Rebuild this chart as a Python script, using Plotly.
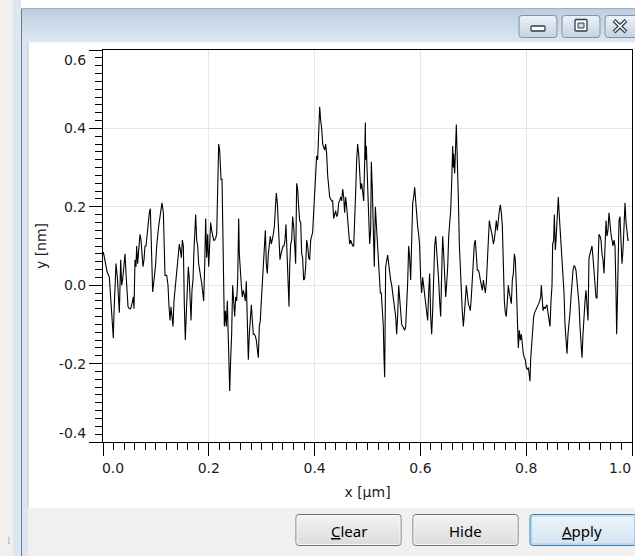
import plotly.graph_objects as go

# ---------------- data ----------------
x_seg1 = [0.0006,0.0038,0.0076,0.0120,0.0145,0.0164,0.0183,0.0195,0.0208,0.0227,
          0.0246,0.0271,0.0290,0.0309,0.0334,0.0353,0.0372,0.0397,0.0416,0.0435,
          0.0447,0.0473,0.0498,0.0523,0.0548,0.0573,0.0586,0.0605,0.0624,0.0636,
          0.0655,0.0674,0.0699,0.0718,0.0737,0.0756,0.0775,0.0794,0.0813,0.0838,
          0.0857,0.0876,0.0895,0.0907,0.0920,0.0939,0.0958,0.0977,0.0996,0.1015,
          0.1033,0.1052,0.1078,0.1096,0.1115,0.1141,0.1153,0.1172,0.1204,0.1229,
          0.1248,0.1267,0.1285,0.1304,0.1323,0.1342,0.1367,0.1386,0.1405,0.1424,
          0.1443,0.1462,0.1481,0.1500,0.1519,0.1537,0.1556,0.1575,0.1594,0.1613,
          0.1632]
y_seg1 = [0.085,0.06,0.035,0.02,-0.035,-0.09,-0.115,-0.135,-0.07,-0.02,
          0.055,0.02,-0.04,-0.07,0.065,0.0,0.015,0.055,0.08,0.03,
          -0.013,-0.055,-0.06,-0.06,-0.047,-0.03,-0.06,0.065,0.047,0.1,
          0.055,0.1,0.13,0.115,0.08,0.047,0.065,0.1,0.1,0.13,
          0.17,0.185,0.195,0.13,0.035,-0.017,0.005,0.03,0.055,0.1,
          0.13,0.15,0.175,0.2,0.21,0.185,0.115,0.025,0.025,0.0,
          -0.055,-0.09,-0.055,-0.09,-0.105,-0.04,0.0,0.02,0.055,0.07,
          0.105,0.09,0.07,0.115,0.1,-0.047,-0.14,-0.07,-0.02,0.047,
          0.013]

x_seg2 = [0.1645,0.1664,0.1682,0.1701,0.1720,0.1739,0.1752,0.1771,0.1790,0.1808,
          0.1827,0.1846,0.1865,0.1884,0.1903,0.1922,0.1941,0.1960,0.1979,0.1998,
          0.2016,0.2035,0.2054,0.2073,0.2092,0.2111,0.2130,0.2149,0.2161,0.2174,
          0.2187,0.2205,0.2218,0.2231,0.2250,0.2262,0.2275,0.2294,0.2313,0.2331,
          0.2350,0.2369,0.2388,0.2395,0.2413,0.2432,0.2451,0.2470,0.2489,0.2508,
          0.2527,0.2546,0.2565,0.2577,0.2596,0.2615,0.2634,0.2653,0.2672,0.2691,
          0.2709,0.2728,0.2747,0.2766,0.2785,0.2804,0.2823,0.2842,0.2861,0.2880,
          0.2898,0.2917,0.2936,0.2955,0.2974,0.2993,0.3012,0.3031,0.3050,0.3069,
          0.3087,0.3106,0.3125,0.3144,0.3163,0.3182,0.3201,0.3220,0.3239,0.3258,
          0.3276,0.3295]
y_seg2 = [-0.055,-0.09,-0.013,0.013,0.09,0.13,0.18,0.115,0.1,0.055,
          0.038,0.03,0.005,-0.017,-0.04,0.047,0.17,0.07,0.13,0.047,
          0.125,0.16,0.14,0.125,0.115,0.115,0.12,0.13,0.215,0.27,
          0.36,0.345,0.32,0.27,0.27,0.15,-0.04,-0.105,-0.065,-0.105,
          -0.04,-0.16,-0.225,-0.27,-0.19,-0.125,0.0,-0.055,-0.08,-0.03,
          -0.04,0.013,0.17,0.08,0.02,0.0,-0.03,-0.013,-0.025,-0.04,
          0.01,-0.14,-0.19,-0.125,-0.08,-0.05,-0.09,-0.125,-0.125,-0.13,
          -0.14,-0.16,-0.185,-0.105,-0.09,-0.04,0.005,0.07,0.1,0.14,
          0.055,0.03,0.08,0.1,0.125,0.105,0.115,0.13,0.15,0.19,
          0.235,0.21]

x_seg3 = [0.3308,0.3327,0.3346,0.3365,0.3384,0.3403,0.3422,0.3440,0.3459,0.3478,
          0.3497,0.3516,0.3529,0.3548,0.3567,0.3585,0.3604,0.3623,0.3642,0.3661,
          0.3680,0.3699,0.3718,0.3737,0.3756,0.3774,0.3793,0.3812,0.3831,0.3850,
          0.3869,0.3888,0.3907,0.3926,0.3945,0.3963,0.3982,0.4001,0.4020,0.4039,
          0.4058,0.4077,0.4096,0.4115,0.4134,0.4153,0.4171,0.4190,0.4209,0.4228,
          0.4247,0.4266,0.4285,0.4304,0.4323,0.4342,0.4360,0.4379,0.4398,0.4417,
          0.4436,0.4455,0.4474,0.4493,0.4512,0.4531,0.4550,0.4568,0.4587,0.4606,
          0.4625,0.4644,0.4663,0.4682,0.4701,0.4720,0.4739,0.4757,0.4776,0.4795,
          0.4814,0.4833,0.4852,0.4871,0.4890,0.4909,0.4928,0.4946,0.4959]
y_seg3 = [0.165,0.105,0.065,0.08,0.09,0.1,0.1,0.115,0.155,0.08,
          0.005,-0.055,0.047,0.105,0.115,0.175,0.15,0.105,0.055,0.26,
          0.245,0.2,0.165,0.16,0.08,0.07,0.013,0.017,0.047,0.115,
          0.1,0.07,0.065,0.115,0.125,0.135,0.185,0.235,0.28,0.33,
          0.32,0.4,0.455,0.42,0.4,0.36,0.35,0.345,0.36,0.335,
          0.28,0.245,0.225,0.22,0.215,0.215,0.17,0.18,0.19,0.175,
          0.18,0.21,0.215,0.225,0.215,0.245,0.225,0.185,0.225,0.2,
          0.165,0.13,0.105,0.115,0.105,0.1,0.1,0.15,0.235,0.32,
          0.36,0.335,0.27,0.245,0.26,0.225,0.215,0.31,0.415]

x_seg4 = [0.4965,0.4978,0.4991,0.5009,0.5022,0.5041,0.5060,0.5072,0.5091,0.5110,
          0.5129,0.5148,0.5167,0.5186,0.5205,0.5224,0.5243,0.5261,0.5280,0.5299,
          0.5312,0.5325,0.5343,0.5362,0.5381,0.5400,0.5419,0.5438,0.5457,0.5476,
          0.5495,0.5514,0.5533,0.5551,0.5570,0.5589,0.5608,0.5627,0.5646,0.5665,
          0.5684,0.5703,0.5722,0.5740,0.5759,0.5778,0.5797,0.5816,0.5835,0.5854,
          0.5873,0.5892,0.5911,0.5930,0.5948,0.5967,0.5986,0.6005,0.6024,0.6043,
          0.6062,0.6081,0.6100,0.6119,0.6137,0.6156,0.6175,0.6194,0.6213,0.6232,
          0.6251,0.6270,0.6289,0.6308,0.6327,0.6345,0.6364,0.6383,0.6402,0.6421,
          0.6440,0.6459,0.6478,0.6497,0.6516,0.6535,0.6554,0.6572,0.6591,0.6610,
          0.6622]
y_seg4 = [0.32,0.355,0.3,0.215,0.15,0.105,0.14,0.315,0.245,0.125,
          0.047,0.2,0.16,0.13,0.08,0.03,-0.02,-0.02,-0.07,-0.105,
          -0.185,-0.235,0.047,0.065,0.077,0.055,0.03,0.013,0.0,-0.02,
          -0.04,-0.065,-0.08,-0.125,-0.08,0.0,-0.04,-0.09,-0.1,-0.105,
          -0.11,-0.115,-0.105,-0.055,0.005,0.1,0.07,0.013,0.105,0.21,
          0.225,0.25,0.215,0.175,0.15,0.13,0.1,0.02,-0.02,0.02,
          0.0,-0.02,-0.047,-0.07,-0.09,-0.02,0.03,-0.08,-0.125,-0.065,
          0.03,0.1,0.125,0.09,0.065,0.013,-0.04,-0.08,0.03,0.125,
          0.08,0.03,-0.03,0.005,0.047,0.125,0.15,0.19,0.26,0.355,
          0.3]

x_seg5 = [0.6629,0.6648,0.6667,0.6679,0.6692,0.6705,0.6717,0.6736,0.6755,0.6774,
          0.6793,0.6812,0.6830,0.6849,0.6868,0.6887,0.6906,0.6925,0.6944,0.6963,
          0.6982,0.7001,0.7019,0.7038,0.7057,0.7076,0.7095,0.7114,0.7133,0.7152,
          0.7171,0.7190,0.7208,0.7227,0.7246,0.7265,0.7284,0.7303,0.7322,0.7341,
          0.7360,0.7379,0.7397,0.7416,0.7435,0.7454,0.7473,0.7492,0.7511,0.7530,
          0.7549,0.7568,0.7587,0.7605,0.7624,0.7643,0.7662,0.7681,0.7700,0.7719,
          0.7738,0.7757,0.7776,0.7794,0.7813,0.7832,0.7851,0.7870,0.7889,0.7908,
          0.7927,0.7946,0.7965,0.7983,0.8002,0.8021,0.8040,0.8059,0.8072,0.8084,
          0.8103,0.8122,0.8141,0.8160,0.8179,0.8198,0.8217,0.8236,0.8255,0.8274,
          0.8286]
y_seg5 = [0.335,0.285,0.355,0.41,0.345,0.3,0.225,0.105,0.03,-0.04,
          -0.07,-0.105,-0.08,-0.04,0.0,-0.03,-0.047,-0.055,-0.065,-0.03,
          0.03,0.065,0.105,0.115,0.07,0.038,0.038,0.03,0.013,0.0,
          -0.013,0.013,0.0,-0.02,0.005,0.055,0.13,0.165,0.15,0.14,
          0.125,0.105,0.115,0.14,0.165,0.14,0.175,0.19,0.205,0.185,
          0.15,0.03,-0.04,-0.07,-0.08,-0.04,0.0,-0.02,-0.03,-0.047,
          0.013,0.03,0.08,0.065,0.0,-0.08,-0.16,-0.115,-0.14,-0.125,
          -0.16,-0.175,-0.185,-0.19,-0.21,-0.215,-0.21,-0.225,-0.245,-0.19,
          -0.15,-0.105,-0.08,-0.07,-0.065,-0.06,-0.055,-0.047,-0.04,-0.03,
          0.0]

x_seg6 = [0.8299,0.8318,0.8336,0.8355,0.8374,0.8393,0.8412,0.8431,0.8450,0.8469,
          0.8488,0.8500,0.8519,0.8532,0.8551,0.8570,0.8588,0.8607,0.8620,0.8639,
          0.8658,0.8677,0.8696,0.8715,0.8733,0.8752,0.8771,0.8790,0.8809,0.8828,
          0.8847,0.8866,0.8885,0.8904,0.8922,0.8941,0.8960,0.8979,0.8998,0.9017,
          0.9036,0.9055,0.9074,0.9093,0.9112,0.9130,0.9149,0.9168,0.9187,0.9206,
          0.9225,0.9244,0.9263,0.9282,0.9301,0.9319,0.9338,0.9357,0.9376,0.9395,
          0.9414,0.9433,0.9452,0.9471,0.9490,0.9509,0.9527,0.9546,0.9565,0.9584,
          0.9603,0.9622,0.9641,0.9660,0.9679,0.9698,0.9710,0.9723,0.9735,0.9754,
          0.9773,0.9792,0.9811,0.9830,0.9849,0.9868,0.9887,0.9905,0.9924,0.9943]
y_seg6 = [-0.047,-0.065,-0.055,-0.06,-0.055,-0.05,-0.07,-0.09,-0.105,-0.04,
          0.0,0.105,0.115,0.18,0.09,0.13,0.19,0.225,0.19,0.15,
          0.13,0.09,0.03,-0.02,-0.1,-0.15,-0.175,-0.125,-0.1,-0.07,
          -0.03,0.013,0.038,0.05,0.047,0.038,0.013,-0.013,-0.047,-0.105,
          -0.14,-0.185,-0.125,-0.07,-0.04,-0.013,-0.065,-0.09,0.07,0.08,
          0.09,0.1,0.07,0.03,-0.013,-0.03,-0.034,0.047,0.13,0.125,
          0.115,0.08,0.065,0.03,0.125,0.165,0.125,0.14,0.185,0.15,
          0.13,0.115,0.1,0.115,0.1,-0.02,-0.125,-0.047,0.09,0.165,
          0.175,0.115,0.055,0.09,0.165,0.21,0.16,0.125,0.115,0.115]

x_um = x_seg1 + x_seg2 + x_seg3 + x_seg4 + x_seg5 + x_seg6
y_nm = y_seg1 + y_seg2 + y_seg3 + y_seg4 + y_seg5 + y_seg6

x_tick_vals = [0.0, 0.2, 0.4, 0.6, 0.8, 1.0]
x_tick_text = ["0.0", "0.2", "0.4", "0.6", "0.8", "1.0"]
y_tick_vals = [-0.4, -0.2, 0.0, 0.2, 0.4, 0.6]
y_tick_text = ["-0.4", "-0.2", "0.0", "0.2", "0.4", "0.6"]
x_title = "x [µm]"
y_title = "y [nm]"
button_labels = ["<u>C</u>lear", "Hide", "<u>A</u>pply"]

# ---------------- geometry / styling ----------------
W, H = 635, 556
L, R, T, B = 103, 632, 50, 442
FONT = "DejaVu Sans"
TXT = "#1c1c1c"


def fx(p):
    return (p - L) / (R - L)


def fy(p):
    return (B - p) / (B - T)


shapes = []
annotations = []


def rect(x0, y0, x1, y1, fill, line_color=None, lw=0, layer="above"):
    shapes.append(dict(type="rect", xref="paper", yref="paper",
                       x0=fx(x0), x1=fx(x1), y0=fy(y0), y1=fy(y1),
                       fillcolor=fill, layer=layer,
                       line=dict(width=lw, color=line_color or fill)))


def seg(x0, y0, x1, y1, color, lw=1):
    shapes.append(dict(type="line", xref="paper", yref="paper",
                       x0=fx(x0), x1=fx(x1), y0=fy(y0), y1=fy(y1),
                       line=dict(color=color, width=lw), layer="above"))


def rrect(x0, y0, x1, y1, r, line_color, lw=1, fill="rgba(0,0,0,0)"):
    def P(a, b):
        return f"{fx(a):.5f},{fy(b):.5f}"
    path = (f"M{P(x0 + r, y0)} L{P(x1 - r, y0)} Q{P(x1, y0)} {P(x1, y0 + r)} "
            f"L{P(x1, y1 - r)} Q{P(x1, y1)} {P(x1 - r, y1)} L{P(x0 + r, y1)} "
            f"Q{P(x0, y1)} {P(x0, y1 - r)} L{P(x0, y0 + r)} Q{P(x0, y0)} {P(x0 + r, y0)} Z")
    shapes.append(dict(type="path", xref="paper", yref="paper", path=path,
                       fillcolor=fill, line=dict(color=line_color, width=lw),
                       layer="above"))


def mix(c0, c1, t):
    return "rgb(%d,%d,%d)" % tuple(round(a + (b - a) * t) for a, b in zip(c0, c1))


def gradient(x0, y0, x1, y1, c0, c1, n=10):
    h = (y1 - y0) / n
    for i in range(n):
        rect(x0, y0 + i * h, x1, y0 + (i + 1) * h + 0.3, mix(c0, c1, i / max(n - 1, 1)))


# desktop / window frame
rect(0, 0, 13, H, "#f0f0f0")
rect(13, 0, 21, H, "#dde7f2")
gradient(22, 8, W, 42, (190, 205, 222), (219, 231, 244), n=17)
rect(22, 42, 28, H, "#dae5f1")
seg(21.5, 8, 21.5, H, "#6f7c8a", 1)
seg(21, 8.5, W, 8.5, "#9fb0c2", 1)
seg(28, 42, 28, 508, "#b9c6d4", 1)
rect(28, 508, W, H, "#f0f0f0")
annotations.append(dict(x=fx(5), y=fy(549), xref="paper", yref="paper", text="⁞",
                        showarrow=False, font=dict(size=11, color="#a0a0a0", family=FONT)))

# title-bar buttons
for bx0, bx1 in [(519, 557), (562, 600), (605, 650)]:
    gradient(bx0 + 1, 16, bx1 - 1, 37, (233, 239, 246), (201, 214, 229), n=7)
    rrect(bx0, 15.5, bx1, 37.5, 3, "#8194a9", 1)
rrect(531, 26, 545, 31, 1, "#2f3d4c", 1.3, fill="#ffffff")
rrect(575, 19.5, 587, 31, 1, "#2f3d4c", 1.3, fill="#ffffff")
rect(578, 23, 584, 28, "#cfd8e2", "#2f3d4c", 1)
seg(614, 20.5, 626, 32, "#2f3d4c", 4)
seg(626, 20.5, 614, 32, "#2f3d4c", 4)
seg(614.5, 21, 625.5, 31.5, "#ffffff", 1.5)
seg(625.5, 21, 614.5, 31.5, "#ffffff", 1.5)

# dialog buttons
btns = [(296, 401), (413, 518), (530, 636)]
for i, (bx0, bx1) in enumerate(btns):
    if i == 2:
        gradient(bx0 + 1, 515, bx1 - 1, 545, (236, 244, 251), (214, 228, 240), n=8)
        rrect(bx0, 514.5, bx1, 545.5, 3, "#3c7fb1", 1)
        rrect(bx0 + 1.5, 516, bx1 - 1.5, 544, 2, "#9dd0f5", 1)
    else:
        gradient(bx0 + 1, 515, bx1 - 1, 545, (242, 242, 242), (221, 221, 221), n=8)
        rrect(bx0, 514.5, bx1, 545.5, 3, "#707070", 1)
        rrect(bx0 + 1, 515.5, bx1 - 1, 544.5, 2, "#fcfcfc", 0.8)
    annotations.append(dict(x=fx((bx0 + min(bx1, 635)) / 2 + (0 if i < 2 else -1)), y=fy(531),
                            xref="paper", yref="paper", text=button_labels[i],
                            showarrow=False, xanchor="center", yanchor="middle",
                            font=dict(size=15, color="#000000", family="Noto Sans")))

# ---------------- figure ----------------
fig = go.Figure()
fig.add_trace(go.Scatter(x=x_um, y=y_nm, mode="lines",
                         line=dict(color="#000000", width=1.1), hoverinfo="skip",
                         showlegend=False))
# transparent copies that only tie the end-label axes to the same data
for xa, ya in [("x2", "y2"), ("x3", "y3")]:
    fig.add_trace(go.Scatter(x=x_um, y=y_nm, mode="lines", xaxis=xa, yaxis=ya,
                             line=dict(color="rgba(0,0,0,0)", width=1), opacity=0,
                             hoverinfo="skip", showlegend=False))

tickfont = dict(family=FONT, size=14, color=TXT)
minor_common = dict(ticks="outside", ticklen=7, tickcolor="#000000", tickwidth=1, showgrid=False)

mid_x_text = [t if 0 < i < len(x_tick_text) - 1 else "" for i, t in enumerate(x_tick_text)]
mid_y_text = [t if 0 < i < len(y_tick_text) - 1 else "" for i, t in enumerate(y_tick_text)]


def end_axis(overlay, anchor, side, rng, val, text, shift):
    return dict(overlaying=overlay, anchor=anchor, side=side, range=rng,
                tickmode="array", tickvals=[val], ticktext=[text],
                ticks="outside", ticklen=13, tickcolor="rgba(0,0,0,0)",
                showgrid=False, zeroline=False, showline=False, ticklabelshift=shift,
                tickfont=tickfont, fixedrange=True)


fig.update_layout(
    width=W, height=H,
    margin=dict(l=L, r=W - R, t=T, b=H - B, pad=0),
    paper_bgcolor="#ffffff", plot_bgcolor="#ffffff",
    showlegend=False,
    xaxis=dict(range=[0, 1], tickmode="array", tickvals=x_tick_vals, ticktext=mid_x_text,
               ticks="outside", ticklen=13, tickwidth=1, tickcolor="#000000",
               minor=dict(tickmode="linear", tick0=0, dtick=0.02, **minor_common),
               showgrid=True, gridcolor="#e6e6e6", gridwidth=1, zeroline=False,
               showline=True, linecolor="#000000", linewidth=1, mirror=True,
               tickfont=tickfont, fixedrange=True,
               title=dict(text=x_title, font=dict(family=FONT, size=14, color=TXT), standoff=12)),
    yaxis=dict(range=[-0.4, 0.6], tickmode="array", tickvals=y_tick_vals, ticktext=mid_y_text,
               ticks="outside", ticklen=13, tickwidth=1, tickcolor="#000000",
               minor=dict(tickmode="linear", tick0=0, dtick=0.02, **minor_common),
               showgrid=True, gridcolor="#e6e6e6", gridwidth=1, zeroline=False,
               showline=True, linecolor="#000000", linewidth=1, mirror=True,
               tickfont=tickfont, fixedrange=True,
               title=dict(text=y_title, font=dict(family=FONT, size=14, color=TXT), standoff=8)),
    xaxis2=end_axis("x", "y", "bottom", [0, 1], x_tick_vals[0], x_tick_text[0], 10),
    xaxis3=end_axis("x", "y", "bottom", [0, 1], x_tick_vals[-1], x_tick_text[-1], -12),
    yaxis2=end_axis("y", "x", "left", [-0.4, 0.6], y_tick_vals[-1], y_tick_text[-1], 10),
    yaxis3=end_axis("y", "x", "left", [-0.4, 0.6], y_tick_vals[0], y_tick_text[0], -9),
    shapes=shapes,
    annotations=annotations,
)

fig.write_html("out.html", config={"displayModeBar": False, "staticPlot": True},
               post_script="document.body.style.margin='0';document.body.style.overflow='hidden';")
